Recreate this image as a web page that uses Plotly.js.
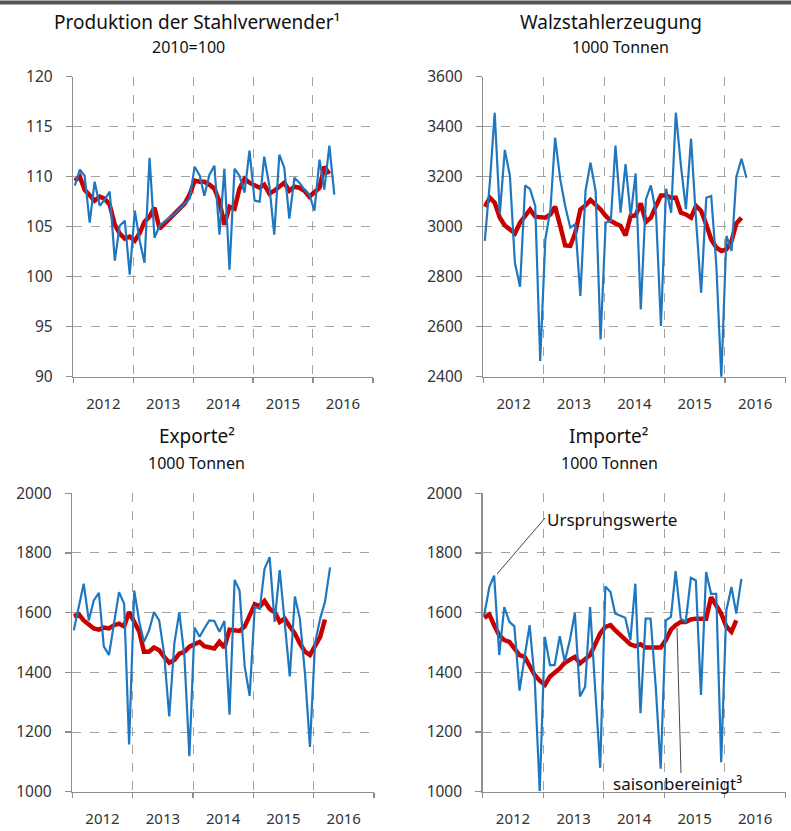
<!DOCTYPE html>
<html>
<head>
<meta charset="utf-8">
<script src="https://cdn.plot.ly/plotly-3.0.1.min.js"></script>
<style>
  html, body { margin: 0; padding: 0; background: #fff; }
  #chart { width: 791px; height: 831px; }
</style>
</head>
<body>
<div id="chart"></div>
<script>
// ---------- DATA (monthly, starting January 2012) ----------
const startYear = 2012;
const yearLabels = ["2012", "2013", "2014", "2015", "2016"];

// Produktion der Stahlverwender (2010=100)
const prodOriginal = [109.1, 110.7, 110.1, 105.4, 109.5, 107.1, 107.7, 108.5, 101.6, 105.1, 105.6, 100.2,
  106.6, 103.5, 101.4, 111.9, 103.9, 105.1, 105.5, 105.9, 106.3, 106.8, 107.3, 107.8,
  111.0, 110.1, 108.1, 110.2, 111.1, 104.2, 110.8, 100.7, 110.8, 110.1, 108.4, 112.6,
  107.6, 107.5, 112.0, 109.1, 104.2, 112.2, 110.9, 105.8, 109.9, 109.4, 108.7, 108.2,
  106.6, 111.7, 108.7, 113.1, 108.2];
const prodSA = [109.6, 110.0, 108.7, 108.2, 107.6, 108.0, 107.8, 107.2, 105.2, 104.3, 103.8, 104.0,
  103.6, 104.4, 105.5, 106.0, 106.9, 104.8, 105.3, 105.8, 106.3, 106.8, 107.3, 108.2,
  109.6, 109.5, 109.5, 109.2, 108.8, 107.5, 105.2, 107.0, 106.8, 108.8, 109.8, 109.4,
  109.1, 108.9, 109.2, 108.3, 108.6, 109.0, 109.4, 108.6, 109.0, 108.9, 108.6, 108.0,
  108.5, 108.9, 111.0, 110.3];

// Walzstahlerzeugung (1000 Tonnen)
const walzOriginal = [2943, 3180, 3456, 3050, 3307, 3203, 2856, 2760, 3165, 3150, 3083, 2463,
  2950, 3070, 3356, 3190, 3083, 2996, 3010, 2723, 3143, 3256, 3143, 2549,
  3016, 3023, 3325, 3056, 3250, 3043, 3213, 2669, 3109, 3165, 3056, 2603,
  3152, 3056, 3456, 3243, 3070, 3352, 3029, 2736, 3116, 3123, 2843, 2396,
  2963, 2903, 3200, 3272, 3196];
const walzSA = [3080, 3116, 3096, 3036, 3005, 2989, 2973, 3016, 3043, 3069, 3040, 3036,
  3036, 3049, 3080, 3003, 2925, 2923, 2976, 3069, 3085, 3107, 3089, 3069,
  3043, 3023, 3013, 3003, 2965, 3043, 3045, 3093, 3019, 3036, 3083, 3125,
  3125, 3116, 3116, 3056, 3049, 3036, 3083, 3063, 3009, 2949, 2916, 2903,
  2909, 2943, 3013, 3036];

// Exporte (1000 Tonnen)
const expOriginal = [1541, 1619, 1697, 1574, 1641, 1666, 1486, 1458, 1569, 1669, 1630, 1158,
  1674, 1569, 1502, 1541, 1602, 1574, 1463, 1252, 1497, 1602, 1452, 1119,
  1550, 1519, 1547, 1574, 1572, 1536, 1572, 1258, 1710, 1674, 1419, 1321,
  1619, 1613, 1747, 1786, 1569, 1743, 1569, 1386, 1654, 1580, 1397, 1150,
  1497, 1580, 1636, 1752];
const expSA = [1588, 1594, 1574, 1558, 1547, 1543, 1550, 1547, 1558, 1563, 1554, 1602,
  1569, 1536, 1469, 1469, 1483, 1474, 1452, 1432, 1441, 1463, 1469, 1486,
  1494, 1502, 1488, 1483, 1480, 1502, 1483, 1543, 1539, 1539, 1554, 1591,
  1628, 1621, 1639, 1613, 1602, 1569, 1580, 1554, 1530, 1497, 1469, 1458,
  1488, 1519, 1577];

// Importe (1000 Tonnen)
const impOriginal = [1591, 1686, 1724, 1458, 1619, 1569, 1554, 1339, 1452, 1558, 1374, 1002,
  1519, 1424, 1424, 1521, 1436, 1508, 1599, 1319, 1352, 1619, 1341, 1080,
  1688, 1669, 1597, 1591, 1583, 1508, 1697, 1263, 1580, 1580, 1352, 1077,
  1574, 1586, 1739, 1580, 1569, 1717, 1708, 1324, 1736, 1663, 1663, 1099,
  1608, 1686, 1597, 1713];
const impSA = [1583, 1594, 1558, 1524, 1508, 1502, 1480, 1458, 1452, 1424, 1391, 1372,
  1358, 1386, 1397, 1413, 1432, 1441, 1452, 1430, 1443, 1458, 1494, 1530,
  1552, 1558, 1541, 1524, 1510, 1494, 1488, 1494, 1483, 1483, 1483, 1483,
  1508, 1543, 1558, 1569, 1569, 1577, 1580, 1580, 1580, 1652, 1624, 1597,
  1554, 1536, 1574];

// ---------- helpers ----------
function monthDates(n) {
  const out = [];
  for (let i = 0; i < n; i++) {
    const y = startYear + Math.floor(i / 12);
    const m = (i % 12) + 1;
    out.push(y + "-" + String(m).padStart(2, "0") + "-10");
  }
  return out;
}
const W = 791, H = 831;
const px = v => v / W;
const py = v => 1 - v / H;

const BLUE = "#1f77c0";
const RED = "#c80000";
const GRID = "#a3a3a3";
const AXIS = "#8e8e8e";
const FONT = "Noto Sans, Open Sans, sans-serif";

function blueTrace(vals, n) {
  return { x: monthDates(vals.length), y: vals, type: "scatter", mode: "lines",
    line: { color: BLUE, width: 2.2 }, xaxis: "x" + n, yaxis: "y" + n, hoverinfo: "skip" };
}
function redTrace(vals, n) {
  return { x: monthDates(vals.length), y: vals, type: "scatter", mode: "lines",
    line: { color: RED, width: 4.5 }, xaxis: "x" + n, yaxis: "y" + n, hoverinfo: "skip" };
}

const traces = [
  redTrace(prodSA, ""), blueTrace(prodOriginal, ""),
  redTrace(walzSA, 2), blueTrace(walzOriginal, 2),
  redTrace(expSA, 3), blueTrace(expOriginal, 3),
  redTrace(impSA, 4), blueTrace(impOriginal, 4)
];

function xAxis(domain, anchor) {
  return {
    domain: domain, anchor: anchor, type: "date",
    range: [startYear + "-01-01", (startYear + yearLabels.length) + "-01-01"],
    tick0: startYear + "-01-01", dtick: "M12", ticklabelmode: "period", tickformat: "%Y",
    showgrid: true, gridcolor: GRID, griddash: "dash", gridwidth: 1,
    showline: true, linecolor: AXIS, linewidth: 1.5,
    ticks: "outside", ticklen: 5, tickcolor: AXIS, tickwidth: 1.2,
    ticklabelstandoff: 8,
    tickfont: { family: FONT, size: 15, color: "#333" },
    zeroline: false, fixedrange: true
  };
}
function yAxis(domain, anchor, range, dtick) {
  return {
    domain: domain, anchor: anchor, range: range, dtick: dtick, tick0: 0,
    showgrid: true, gridcolor: GRID, griddash: "dash", gridwidth: 1,
    showline: true, linecolor: AXIS, linewidth: 1.5,
    ticks: "outside", ticklen: 6, tickcolor: AXIS, tickwidth: 1.2,
    ticklabelstandoff: 10,
    tickfont: { family: FONT, size: 15.5, color: "#333" },
    zeroline: false, fixedrange: true
  };
}

const topRow = [py(376.7), py(76.7)];
const botRow = [py(791.7), py(493.3)];

function label(text, x, y, size, extra) {
  return Object.assign({ text: text, xref: "paper", yref: "paper", x: px(x), y: py(y),
    xanchor: "center", yanchor: "middle", showarrow: false,
    font: { family: FONT, size: size, color: "#111" } }, extra || {});
}

const layout = {
  width: W, height: H,
  margin: { l: 0, r: 0, t: 0, b: 0 },
  paper_bgcolor: "#fff", plot_bgcolor: "#fff",
  showlegend: false,
  xaxis: xAxis([px(73.3), px(373)], "y"),
  yaxis: yAxis(topRow, "x", [90, 120], 5),
  xaxis2: xAxis([px(483.3), px(785.5)], "y2"),
  yaxis2: yAxis(topRow, "x2", [2400, 3600], 200),
  xaxis3: xAxis([px(72.3), px(374)], "y3"),
  yaxis3: yAxis(botRow, "x3", [1000, 2000], 200),
  xaxis4: xAxis([px(482.7), px(785.5)], "y4"),
  yaxis4: yAxis(botRow, "x4", [1000, 2000], 200),
  shapes: [
    { type: "rect", xref: "paper", yref: "paper", x0: 0, x1: 1, y0: py(4.6), y1: py(0.6),
      fillcolor: "#555", line: { width: 0 } },
    { type: "line", xref: "paper", yref: "paper", x0: px(545), y0: py(518), x1: px(497), y1: py(574),
      line: { color: "#444", width: 1 } },
    { type: "line", xref: "paper", yref: "paper", x0: px(677), y0: py(628), x1: px(681), y1: py(773),
      line: { color: "#444", width: 1 } }
  ],
  annotations: [
    label("Produktion der Stahlverwender¹", 197, 22, 19),
    label("2010=100", 188, 47, 16),
    label("Walzstahlerzeugung", 611, 22, 19),
    label("1000 Tonnen", 620, 47, 16),
    label("Exporte²", 197, 436, 19),
    label("1000 Tonnen", 196, 463, 16),
    label("Importe²", 608, 436, 19),
    label("1000 Tonnen", 609, 463, 16),
    label("Ursprungswerte", 545, 519, 17, { xanchor: "left" }),
    label("saisonbereinigt³", 677, 783, 17)
  ]
};

Plotly.newPlot("chart", traces, layout, { staticPlot: true, displayModeBar: false });
</script>
</body>
</html>
